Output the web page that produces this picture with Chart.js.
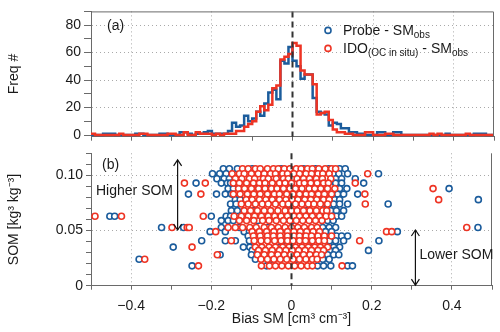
<!DOCTYPE html>
<html>
<head>
<meta charset="utf-8">
<script src="https://cdn.jsdelivr.net/npm/chart.js@4/dist/chart.umd.min.js"></script>
<style>
  html, body { margin: 0; padding: 0; background: #fff; }
  #wrap    { position: relative; width: 500px; height: 332px; }
  #histBox { position: absolute; left: 0; top: 0;     width: 500px; height: 150px; }
  #somBox  { position: absolute; left: 0; top: 140px; width: 500px; height: 192px; }
</style>
</head>
<body>
<div id="wrap">
  <div id="histBox"><canvas id="histChart"></canvas></div>
  <div id="somBox"><canvas id="somChart"></canvas></div>
</div>
<script>
// ── Data ──────────────────────────────────────────────────────────────────

// histogram counts, 0.01-wide bins from -0.50 to +0.50
const probeFreq = [
  0,0,0,1,1,1,0,0,0,0,   0,1,1,0,0,0,0,1,1,0,   0,0,2,2,1,0,1,1,2,3,
  1,1,1,1,3,9,6,7,14,10, 12,17,14,23,31,33,26,54,52,64,
  54,50,41,44,44,27,17,16,15,7, 9,8,5,5,2,2,1,1,0,0,
  0,2,2,0,0,2,2,0,0,0,   0,0,0,0,0,0,0,0,1,0,   0,0,0,0,0,1,1,1,0,0
];
const idoFreq = [
  1,0,0,0,0,0,0,1,0,0,   0,0,1,1,0,0,0,0,0,1,   1,0,0,2,0,0,2,1,1,1,
  0,1,0,1,1,1,3,3,6,8,   10,17,21,18,22,34,36,55,57,59,
  67,65,47,44,44,37,15,16,17,11, 4,2,2,1,1,0,0,0,2,2,
  0,0,0,1,1,0,0,0,0,0,   0,0,0,0,1,0,1,0,0,0,   0,0,0,1,0,0,0,0,0,0
];
const binLeft = probeFreq.map((_, i) => -0.5 + i * 0.01);

// scatter: SOM levels and the bias values found at each level
const somLevels = [0.106, 0.1015, 0.097, 0.093, 0.088, 0.083, 0.078, 0.074, 0.068, 0.063,
                   0.059, 0.0527, 0.049, 0.045, 0.0407, 0.035, 0.032, 0.028, 0.024, 0.018];

const probeBias = [
  [-0.17, -0.155, -0.135, -0.098, -0.026, 0.03, 0.06, 0.093, 0.12, 0.134],
  [-0.197, -0.179, -0.163, -0.075, 0.012, 0.105, 0.118, 0.14, 0.217],
  [-0.186, -0.168, -0.155, -0.082, -0.028, 0.053, 0.11, 0.125, 0.159],
  [-0.238, -0.175, -0.16, -0.152, -0.06, 0.01, 0.11, 0.125, 0.18],
  [-0.158, -0.145, -0.09, 0.0, 0.05, 0.12, 0.138, 0.393],
  [-0.257, -0.187, -0.165, -0.15, -0.052, 0.028, 0.115, 0.13, 0.165],
  [-0.14, -0.128, -0.04, 0.07, 0.108, 0.12, 0.466],
  [-0.152, -0.138, -0.015, 0.08, 0.105, 0.12, 0.14, 0.241],
  [-0.15, -0.135, -0.095, -0.008, 0.036, 0.098, 0.112, 0.13],
  [-0.453, -0.441, -0.2, -0.163, -0.152, -0.118, -0.048, 0.012, 0.112, 0.125],
  [-0.175, -0.158, -0.145, -0.084, 0.002, 0.09, 0.104],
  [-0.324, -0.269, -0.175, -0.13, -0.058, 0.078, 0.094, 0.11, 0.465],
  [-0.203, -0.165, -0.118, -0.105, 0.0, 0.085, 0.1, 0.264],
  [-0.108, -0.04, 0.028, 0.112, 0.125, 0.14],
  [-0.224, -0.165, -0.14, -0.105, -0.015, 0.095, 0.11, 0.13, 0.218],
  [-0.295, -0.12, -0.104, -0.03, 0.045, 0.105, 0.12],
  [-0.098, -0.005, 0.095, 0.11, 0.192],
  [-0.178, -0.1, -0.055, 0.022, 0.09, 0.105, 0.118],
  [-0.38, -0.09, -0.05, 0.012, 0.078, 0.094],
  [-0.248, -0.062, 0.065, 0.08, 0.098, 0.14, 0.152]
];
const idoBias = [
  [-0.122, -0.108, -0.09, -0.078, -0.06, -0.045, -0.033, -0.018, -0.004, 0.012, 0.024, 0.04, 0.052, 0.068, 0.084, 0.1, 0.11],
  [-0.148, -0.13, -0.118, -0.1, -0.083, -0.068, -0.052, -0.04, -0.022, -0.01, 0.006, 0.02, 0.036, 0.05, 0.066, 0.078, 0.094, 0.19],
  [-0.14, -0.124, -0.105, -0.092, -0.07, -0.058, -0.038, -0.02, -0.008, 0.014, 0.03, 0.045, 0.062, 0.077, 0.098],
  [-0.267, -0.215, -0.145, -0.13, -0.112, -0.095, -0.08, -0.066, -0.048, -0.03, -0.016, 0.0, 0.02, 0.032, 0.048, 0.064, 0.08, 0.092, 0.159],
  [-0.132, -0.117, -0.1, -0.082, -0.066, -0.05, -0.036, -0.02, -0.004, 0.01, 0.026, 0.044, 0.058, 0.073, 0.09, 0.108, 0.353],
  [-0.226, -0.145, -0.128, -0.11, -0.094, -0.078, -0.06, -0.043, -0.03, -0.012, 0.004, 0.02, 0.036, 0.05, 0.067, 0.082, 0.1, 0.183],
  [-0.113, -0.098, -0.08, -0.064, -0.048, -0.03, -0.014, 0.002, 0.016, 0.033, 0.048, 0.063, 0.08, 0.094, 0.367],
  [-0.125, -0.108, -0.09, -0.073, -0.058, -0.04, -0.022, -0.008, 0.01, 0.026, 0.042, 0.056, 0.072, 0.09, 0.184],
  [-0.118, -0.102, -0.085, -0.068, -0.052, -0.034, -0.016, 0.0, 0.014, 0.03, 0.046, 0.062, 0.078, 0.088],
  [-0.49, -0.424, -0.22, -0.143, -0.125, -0.108, -0.092, -0.075, -0.058, -0.042, -0.026, -0.01, 0.006, 0.02, 0.036, 0.052, 0.07, 0.086, 0.1],
  [-0.13, -0.112, -0.094, -0.072, -0.056, -0.038, -0.02, -0.004, 0.012, 0.028, 0.044, 0.06, 0.076],
  [-0.298, -0.26, -0.255, -0.158, -0.14, -0.122, -0.104, -0.088, -0.068, -0.05, -0.033, -0.016, 0.0, 0.016, 0.032, 0.05, 0.064, 0.437],
  [-0.189, -0.098, -0.08, -0.062, -0.044, -0.028, -0.01, 0.006, 0.022, 0.038, 0.054, 0.07, 0.237, 0.25],
  [-0.095, -0.078, -0.06, -0.045, -0.028, -0.01, 0.006, 0.02, 0.036, 0.05, 0.066, 0.082, 0.1],
  [-0.15, -0.093, -0.076, -0.06, -0.042, -0.026, -0.01, 0.004, 0.02, 0.035, 0.052, 0.068, 0.082, 0.17],
  [-0.248, -0.09, -0.074, -0.056, -0.04, -0.022, -0.006, 0.01, 0.026, 0.042, 0.058, 0.072, 0.09],
  [-0.082, -0.065, -0.048, -0.03, -0.014, 0.002, 0.018, 0.034, 0.05, 0.066, 0.08],
  [-0.185, -0.085, -0.068, -0.05, -0.034, -0.018, -0.002, 0.014, 0.03, 0.046, 0.062, 0.075],
  [-0.366, -0.076, -0.06, -0.044, -0.028, -0.012, 0.004, 0.02, 0.036, 0.052, 0.064],
  [-0.232, -0.075, -0.055, -0.04, -0.024, -0.008, 0.008, 0.024, 0.04, 0.052, 0.126]
];

// axis ticks
const biasTicks = [-0.5, -0.4, -0.3, -0.2, -0.1, 0, 0.1, 0.2, 0.3, 0.4, 0.5];
const freqTicks = [0, 10, 20, 30, 40, 50, 60, 70, 80, 90];
const somTicks  = [0, 0.01, 0.02, 0.03, 0.04, 0.05, 0.06, 0.07, 0.08, 0.09, 0.10, 0.11, 0.12];

// ── Styling ───────────────────────────────────────────────────────────────

const FONT = "'Liberation Sans', Arial, Helvetica, sans-serif";
const INK  = '#1a1a1a';
const BLUE = '#1b5c9c';
const RED  = '#ee3424';
const AXIS = '#6a6a6a';
const DOTS = '#a9a9a9';
const NONE = 'rgba(0,0,0,0)';

Chart.defaults.font.family = FONT;
Chart.defaults.font.size = 14;
Chart.defaults.color = INK;

const near = (a, b) => Math.abs(a - b) < 1e-6;
const onStep = (v, step) => near(v / step, Math.round(v / step));
const fmtBias = v => near(v, 0) ? '0' : (v < 0 ? '\u2212' : '') + Math.abs(v).toFixed(1);

function biasAxis(labels, height) {
  return {
    type: 'linear', min: -0.5, max: 0.5,
    afterBuildTicks: s => { s.ticks = biasTicks.map(v => ({ value: v })); },
    afterFit: s => { s.height = height; },
    ticks: { display: labels, autoSkip: false, maxRotation: 0, padding: 8,
             callback: v => onStep(v, 0.2) ? fmtBias(v) : '' },
    grid: { color: c => c.tick && onStep(c.tick.value, 0.2) && !near(c.tick.value, 0) ? DOTS : NONE,
            tickColor: AXIS, tickLength: 4 },
    border: { color: AXIS, width: 1, dash: [1, 3] },
    title: { display: labels, text: 'Bias SM [cm\u00b3 cm\u207b\u00b3]', padding: { top: 0, bottom: 4 } }
  };
}

// ── Drawing helpers ───────────────────────────────────────────────────────

function zeroLine(ctx, x, top, bottom) {
  ctx.save();
  ctx.strokeStyle = '#333';
  ctx.lineWidth = 2;
  ctx.setLineDash([6, 4]);
  ctx.beginPath(); ctx.moveTo(x, top); ctx.lineTo(x, bottom); ctx.stroke();
  ctx.restore();
}

// text pieces: [string, isSubscript]
function richText(ctx, x, y, parts) {
  ctx.textBaseline = 'alphabetic';
  ctx.textAlign = 'left';
  for (const [txt, sub] of parts) {
    ctx.font = (sub ? '10px ' : '14px ') + FONT;
    ctx.fillText(txt, x, y + (sub ? 3 : 0));
    x += ctx.measureText(txt).width;
  }
}

function ring(ctx, x, y, color) {
  ctx.beginPath(); ctx.arc(x, y, 3, 0, Math.PI * 2);
  ctx.fillStyle = '#fff'; ctx.fill();
  ctx.lineWidth = 1.6; ctx.strokeStyle = color; ctx.stroke();
}

function doubleArrow(ctx, x, y1, y2) {
  ctx.save();
  ctx.strokeStyle = '#111'; ctx.lineWidth = 1.2; ctx.setLineDash([]);
  ctx.beginPath(); ctx.moveTo(x, y1); ctx.lineTo(x, y2); ctx.stroke();
  ctx.beginPath();
  ctx.moveTo(x - 4, y1 + 6); ctx.lineTo(x, y1); ctx.lineTo(x + 4, y1 + 6);
  ctx.moveTo(x - 4, y2 - 6); ctx.lineTo(x, y2); ctx.lineTo(x + 4, y2 - 6);
  ctx.stroke();
  ctx.restore();
}

// ── (a) histogram ─────────────────────────────────────────────────────────

const stepData = counts => binLeft.map((x, i) => ({ x, y: counts[i] }))
  .concat([{ x: 0.5, y: counts[counts.length - 1] }]);

const histDecor = {
  id: 'histDecor',
  afterDatasetsDraw(chart) {
    const { ctx, chartArea: a, scales: { x } } = chart;
    zeroLine(ctx, x.getPixelForValue(0), a.top, a.bottom);
    ctx.save();
    ctx.strokeStyle = AXIS; ctx.lineWidth = 1;
    ctx.beginPath();
    ctx.moveTo(a.left, a.top + 0.5); ctx.lineTo(a.right - 0.5, a.top + 0.5); ctx.lineTo(a.right - 0.5, a.bottom);
    ctx.stroke();
    ctx.fillStyle = INK; ctx.font = '14px ' + FONT; ctx.textBaseline = 'middle';
    ctx.fillText('(a)', a.left + 16, a.top + 15);
    // legend
    const lx = a.left + 237;
    ring(ctx, lx, a.top + 19, BLUE);
    ring(ctx, lx, a.top + 37, RED);
    ctx.fillStyle = INK;
    richText(ctx, lx + 15, a.top + 24, [['Probe - SM', false], ['obs', true]]);
    richText(ctx, lx + 15, a.top + 42, [['IDO', false], ['(OC in situ)', true], [' - SM', false], ['obs', true]]);
    ctx.restore();
  }
};

new Chart(document.getElementById('histChart'), {
  type: 'line',
  data: {
    datasets: [
      { label: 'IDO', data: stepData(idoFreq), order: 0, stepped: 'before',
        borderColor: RED, borderWidth: 2.5, pointRadius: 0, fill: false },
      { label: 'Probe', data: stepData(probeFreq), order: 1, stepped: 'before',
        borderColor: BLUE, borderWidth: 2.5, pointRadius: 0, fill: false }
    ]
  },
  options: {
    responsive: true, maintainAspectRatio: false, animation: false,
    layout: { padding: { top: 4.7, right: 6, bottom: 0, left: 0 } },
    plugins: { legend: { display: false }, tooltip: { enabled: false } },
    scales: {
      x: biasAxis(false, 13.3),
      y: {
        type: 'linear', min: -1.2, max: 90,
        afterBuildTicks: s => { s.ticks = freqTicks.map(v => ({ value: v })); },
        afterFit: s => { s.width = 91; },
        ticks: { autoSkip: false, padding: 3, callback: v => v % 20 === 0 ? String(v) : '' },
        grid: { color: c => c.tick && c.tick.value > 0 && c.tick.value % 20 === 0 && c.tick.value < 90 ? DOTS : NONE,
                tickColor: AXIS, tickLength: 7 },
        border: { color: AXIS, width: 1, dash: [1, 3] },
        title: { display: true, text: 'Freq #', padding: { top: 6, bottom: 0 } }
      }
    }
  },
  plugins: [histDecor]
});

// ── (b) SOM vs bias ───────────────────────────────────────────────────────

const toPoints = rows => rows.flatMap((xs, i) => xs.map(x => ({ x, y: somLevels[i] })));

const somDecor = {
  id: 'somDecor',
  afterDatasetsDraw(chart) {
    const { ctx, chartArea: a, scales: { x, y } } = chart;
    zeroLine(ctx, x.getPixelForValue(0), a.top, a.bottom);
    ctx.save();
    ctx.strokeStyle = AXIS; ctx.lineWidth = 1;
    ctx.beginPath(); ctx.moveTo(a.right - 0.5, a.top); ctx.lineTo(a.right - 0.5, a.bottom); ctx.stroke();
    ctx.fillStyle = INK; ctx.font = '14px ' + FONT; ctx.textBaseline = 'middle'; ctx.textAlign = 'left';
    ctx.fillText('(b)', a.left + 11, a.top + 12);
    ctx.fillText('Higher SOM', a.left + 5, a.top + 38);
    ctx.fillText('Lower SOM', x.getPixelForValue(0.319), a.top + 102);
    doubleArrow(ctx, x.getPixelForValue(-0.284), y.getPixelForValue(0.114), y.getPixelForValue(0.0505));
    doubleArrow(ctx, x.getPixelForValue(0.309), y.getPixelForValue(0.0505), y.getPixelForValue(0.0005));
    ctx.restore();
  }
};

new Chart(document.getElementById('somChart'), {
  type: 'scatter',
  data: {
    datasets: [
      { label: 'IDO', data: toPoints(idoBias), order: 0,
        borderColor: RED, backgroundColor: '#fff', pointRadius: 3, pointBorderWidth: 1.6 },
      { label: 'Probe', data: toPoints(probeBias), order: 1,
        borderColor: BLUE, backgroundColor: '#fff', pointRadius: 3, pointBorderWidth: 1.6 }
    ]
  },
  options: {
    responsive: true, maintainAspectRatio: false, animation: false,
    layout: { padding: { top: 13.3, right: 6, bottom: 0, left: 0 } },
    plugins: { legend: { display: false }, tooltip: { enabled: false } },
    scales: {
      x: biasAxis(true, 46.3),
      y: {
        type: 'linear', min: 0, max: 0.12,
        afterBuildTicks: s => { s.ticks = somTicks.map(v => ({ value: v })); },
        afterFit: s => { s.width = 91; },
        ticks: { autoSkip: false, padding: 3,
                 callback: v => near(v, 0) ? '0' : (onStep(v, 0.05) ? v.toFixed(2) : '') },
        grid: { color: c => c.tick && onStep(c.tick.value, 0.05) && c.tick.value > 0.001 ? DOTS : NONE,
                tickColor: AXIS, tickLength: 5 },
        border: { color: AXIS, width: 1, dash: [1, 3] },
        title: { display: true, text: 'SOM [kg\u00b3 kg\u207b\u00b3]', padding: { top: 6, bottom: 0 } }
      }
    }
  },
  plugins: [somDecor]
});
</script>
</body>
</html>
